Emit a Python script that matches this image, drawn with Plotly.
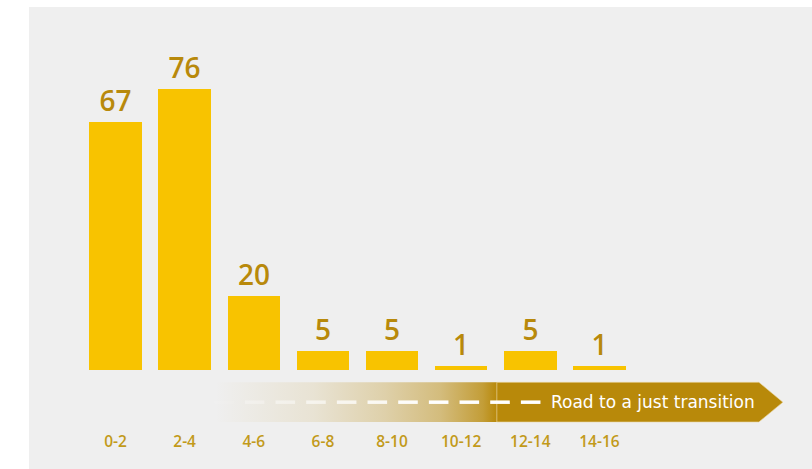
import plotly.graph_objects as go

# ---- data ----
categories = ["0-2", "2-4", "4-6", "6-8", "8-10", "10-12", "12-14", "14-16"]
values = [67, 76, 20, 5, 5, 1, 5, 1]
arrow_label = "Road to a just transition"

# ---- style ----
BG = "#efefef"
BAR = "#F8C300"
LABEL = "#B8890B"
TICK = "#C29A1A"
ARROW = "#B8890A"
FONT = "Open Sans"

x_idx = list(range(len(categories)))

fig = go.Figure()

# decorative arrow geometry (axis units)
ax0, ax_solid, ax_head, ax_tip = 1.44, 5.516, 9.306, 9.653
ay_top, ay_bot, ay_mid = -3.32, -14.05, -8.70

# gradient part
fig.add_trace(go.Scatter(
    x=[ax0, ax_solid, ax_solid, ax0, ax0],
    y=[ay_top, ay_top, ay_bot, ay_bot, ay_top],
    mode="lines", line=dict(width=0), fill="toself",
    fillgradient=dict(type="horizontal", start=ax0, stop=ax_solid,
                      colorscale=[[0, "rgba(184,137,10,0)"],
                                  [0.35, "rgba(184,137,10,0.12)"],
                                  [0.6, "rgba(184,137,10,0.3)"],
                                  [0.8, "rgba(184,137,10,0.5)"],
                                  [0.95, "rgba(184,137,10,0.8)"],
                                  [1, "rgba(184,137,10,1)"]]),
    hoverinfo="skip", showlegend=False))
# solid part with head
fig.add_trace(go.Scatter(
    x=[ax_solid, ax_head, ax_tip, ax_head, ax_solid, ax_solid],
    y=[ay_top, ay_top, ay_mid, ay_bot, ay_bot, ay_top],
    mode="lines", line=dict(color="rgba(235,215,160,0.6)", width=1),
    fill="toself", fillcolor=ARROW,
    hoverinfo="skip", showlegend=False))

# dashes (fading in from left)
dash_alpha = [0.08, 0.3, 0.45, 0.6, 0.75, 0.85, 0.95, 1, 1, 1, 1]
dash_x = [1.569 + 0.4436 * k for k in range(len(dash_alpha))]
fig.add_trace(go.Scatter(
    x=dash_x, y=[ay_mid] * len(dash_x), mode="markers",
    marker=dict(symbol="line-ew", size=14,
                line=dict(width=3.5, color=[f"rgba(255,255,255,{a})" for a in dash_alpha])),
    hoverinfo="skip", showlegend=False))

# bars
fig.add_trace(go.Bar(
    x=x_idx, y=values, width=0.758, marker=dict(color=BAR, line=dict(width=0)),
    text=[str(v) for v in values], textposition="outside", cliponaxis=False,
    textfont=dict(family=FONT, size=28, color=LABEL, weight=600),
    hoverinfo="skip", showlegend=False))

# category labels
fig.add_trace(go.Scatter(
    x=x_idx, y=[-19.9] * len(categories), mode="text", text=categories,
    textposition="middle center",
    textfont=dict(family=FONT, size=15.5, color=TICK, weight=600),
    hoverinfo="skip", showlegend=False))

fig.add_annotation(x=6.27, y=ay_mid, xref="x", yref="y", text=arrow_label,
                   showarrow=False, xanchor="left", yanchor="middle",
                   font=dict(family="DejaVu Sans", size=17, color="white"))

fig.update_layout(
    width=812, height=469,
    margin=dict(l=29, r=0, t=7, b=0),
    paper_bgcolor="white", plot_bgcolor=BG,
    xaxis=dict(range=[-1.251, 10.074], visible=False, fixedrange=True),
    yaxis=dict(range=[-26.76, 98.11], visible=False, fixedrange=True),
    bargap=0,
)

fig.write_html("out.html", config={"displayModeBar": False},
               post_script="document.body.style.margin='0';document.body.style.overflow='hidden';")
